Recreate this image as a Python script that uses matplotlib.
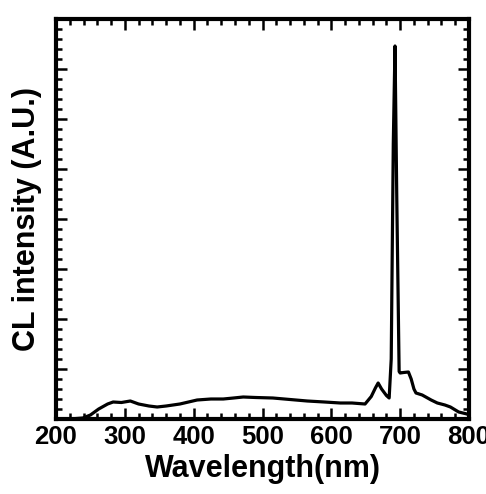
import matplotlib
matplotlib.use('Agg')
import matplotlib.pyplot as plt
from matplotlib.ticker import MultipleLocator, NullFormatter

# CL spectrum (wavelength nm, intensity a.u.)
wavelength = [200, 220, 239, 250, 262, 275, 283, 295, 308, 320, 335, 347, 360, 380,
              405, 425, 443, 458, 472, 490, 515, 540, 565, 590, 613, 630, 649,
              658, 664, 668, 673, 680, 684, 687, 690, 692.5, 695, 698.5, 700,
              705, 712, 716, 720, 723, 732, 745, 754, 765, 773, 785, 797, 800]
intensity = [0.0, 0.0, 0.02, 0.08, 0.2, 0.3, 0.34, 0.33, 0.36, 0.3, 0.26, 0.24, 0.26, 0.3,
             0.38, 0.4, 0.4, 0.42, 0.44, 0.43, 0.42, 0.39, 0.36, 0.34, 0.32, 0.32, 0.3,
             0.45, 0.62, 0.72, 0.6, 0.47, 0.42, 1.2, 5.5, 7.46, 4.5, 0.95, 0.92,
             0.93, 0.94, 0.8, 0.6, 0.52, 0.48, 0.38, 0.32, 0.28, 0.24, 0.14, 0.1, 0.08]

plt.rcParams['font.family'] = ['Liberation Sans', 'DejaVu Sans']
plt.rcParams['font.weight'] = 'bold'

fig = plt.figure(figsize=(4.86, 4.94), dpi=100)
ax = fig.add_axes([56 / 486, 1 - 419 / 494, (469 - 56) / 486, (419 - 19) / 494])

ax.plot(wavelength, intensity, color='black', linewidth=2.3)

ax.set_xlim(200, 800)
ax.set_ylim(0, 8)
ax.xaxis.set_major_locator(MultipleLocator(100))
ax.xaxis.set_minor_locator(MultipleLocator(20))
ax.yaxis.set_major_locator(MultipleLocator(1))
ax.yaxis.set_minor_locator(MultipleLocator(0.2))
ax.yaxis.set_major_formatter(NullFormatter())

ax.tick_params(which='both', direction='in', top=True, right=True, width=1.8)
ax.tick_params(which='major', length=8, labelsize=18.5, pad=4)
ax.tick_params(which='minor', length=4.5)
for lbl in ax.get_xticklabels():
    lbl.set_fontweight('bold')
for sp in ax.spines.values():
    sp.set_linewidth(3)

ax.set_xlabel('Wavelength(nm)', fontsize=22, fontweight='bold', labelpad=4)
ax.set_ylabel('CL intensity (A.U.)', fontsize=22, fontweight='bold', labelpad=6)

fig.savefig('out.png', dpi=100)
